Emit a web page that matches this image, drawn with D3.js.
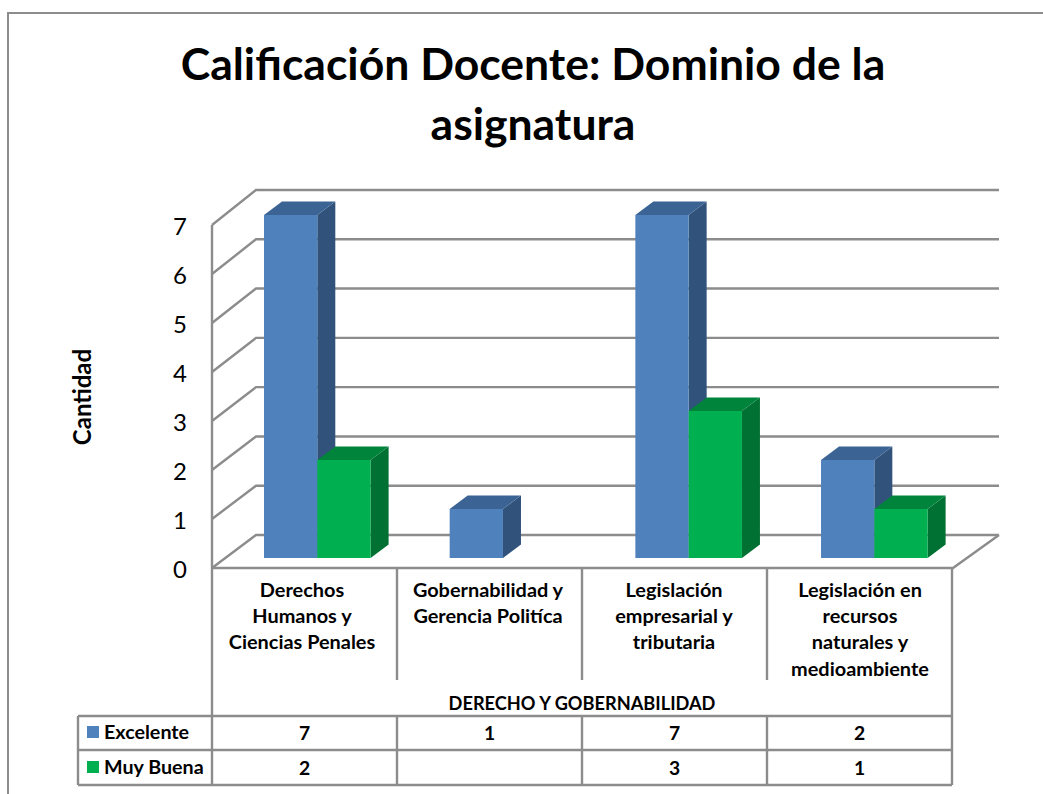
<!DOCTYPE html>
<html>
<head>
<meta charset="utf-8">
<script src="https://cdn.jsdelivr.net/npm/d3@7"></script>
<style>
html, body { margin: 0; padding: 0; background: #fff; overflow: hidden; }
text { font-family: Lato, "Open Sans", sans-serif; fill: #000; }
</style>
</head>
<body>
<div id="chart"></div>
<script>
var titleLines = ["Calificación Docente: Dominio de la", "asignatura"];
var categories = [
    ["Derechos", "Humanos y", "Ciencias Penales"],
    ["Gobernabilidad y", "Gerencia Politíca"],
    ["Legislación", "empresarial y", "tributaria"],
    ["Legislación en", "recursos", "naturales y", "medioambiente"]
];
var groupLabel = "DERECHO Y GOBERNABILIDAD";
var yTicks = [0, 1, 2, 3, 4, 5, 6, 7];
var seriesNames = ["Excelente", "Muy Buena"];
var excelente = [7, 1, 7, 2];
var muyBuena = [2, null, 3, 1];
var seriesValues = [excelente, muyBuena];
var frontColors = ["#4f81bd", "#00b050"];
var sideColors = ["#31527b", "#007033"];
var topColors = ["#3b6394", "#00843c"];

var width = 1043, height = 794;
var gridColor = "#8c8c8c";
var depthX = 18, depthY = 13.5;

var svg = d3.select("#chart").append("svg")
    .attr("width", width)
    .attr("height", height);

// outer chart frame, runs off the picture on the right and bottom
svg.append("path")
    .attr("d", "M8,794V13H1043")
    .attr("fill", "none")
    .attr("stroke", gridColor)
    .attr("stroke-width", 2);

svg.selectAll(".title")
    .data(titleLines)
    .enter().append("text")
    .attr("class", "title")
    .attr("x", 533)
    .attr("y", function(d, i) { return 80 + i * 60; })
    .attr("text-anchor", "middle")
    .attr("font-size", 44.5)
    .attr("font-weight", 700)
    .text(function(d) { return d; });

// scales: floor front edge, back wall, and the bars sit between them
var yFront = d3.scaleLinear().domain([0, 7]).range([568, 225]);
var yBack = d3.scaleLinear().domain([0, 7]).range([535, 190]);
var yBar = d3.scaleLinear().domain([0, 7]).range([558, 215]);
var x = d3.scaleBand().domain(d3.range(categories.length)).range([212, 952]);
var xBar = d3.scaleBand().domain(d3.range(categories.length)).range([212, 954.7]);
var xLabel = d3.scaleBand().domain(d3.range(categories.length)).range([209, 953]);
var xSeries = d3.scaleBand().domain(d3.range(seriesNames.length)).range([0, 106.6]);
var barOffset = 52;

var grid = svg.append("g")
    .attr("fill", "none")
    .attr("stroke", gridColor)
    .attr("stroke-width", 2.4);

grid.selectAll("path")
    .data(yTicks)
    .enter().append("path")
    .attr("d", function(d) {
        return "M212," + yFront(d) + "L256," + yBack(d) + "H999";
    });

grid.append("path").attr("d", "M212," + yFront(7) + "V" + yFront(0));
grid.append("path").attr("d", "M212,568H953L999,535");

// y axis labels
var yAxis = d3.axisLeft(yFront).tickValues(yTicks).tickSize(0).tickPadding(25).tickFormat(d3.format("d"));
var yAxisG = svg.append("g").attr("transform", "translate(212,2)").call(yAxis);
yAxisG.select(".domain").remove();
yAxisG.selectAll("text")
    .attr("font-size", 24)
    .style("font-family", "Lato, sans-serif")
    .attr("fill", "#000");

svg.append("text")
    .attr("transform", "translate(91,397) rotate(-90)")
    .attr("text-anchor", "middle")
    .attr("font-size", 24)
    .attr("font-weight", 700)
    .text("Cantidad");

// bars
var bars = [];
seriesValues.forEach(function(vals, s) {
    vals.forEach(function(v, c) {
        if (v !== null) bars.push({s: s, c: c, v: v});
    });
});
bars.sort(function(a, b) { return a.c - b.c || a.s - b.s; });

var bar = svg.selectAll(".bar")
    .data(bars)
    .enter().append("g")
    .attr("class", "bar");

function barLeft(d) { return xBar(d.c) + barOffset + xSeries(d.s); }
function barRight(d) { return barLeft(d) + xSeries.bandwidth(); }

bar.append("path")
    .attr("fill", function(d) { return sideColors[d.s]; })
    .attr("d", function(d) {
        var r = barRight(d), t = yBar(d.v), b = yBar(0);
        return "M" + r + "," + t + "l" + depthX + "," + (-depthY) + "V" + (b - depthY) + "L" + r + "," + b + "Z";
    });

bar.append("path")
    .attr("fill", function(d) { return topColors[d.s]; })
    .attr("d", function(d) {
        var l = barLeft(d), r = barRight(d), t = yBar(d.v);
        return "M" + l + "," + t + "l" + depthX + "," + (-depthY) + "H" + (r + depthX) + "L" + r + "," + t + "Z";
    });

bar.append("rect")
    .attr("x", barLeft)
    .attr("y", function(d) { return yBar(d.v); })
    .attr("width", xSeries.bandwidth())
    .attr("height", function(d) { return yBar(0) - yBar(d.v); })
    .attr("fill", function(d) { return frontColors[d.s]; });

// data table rules
var rowY = [716, 750, 785];
var table = svg.append("g")
    .attr("fill", "none")
    .attr("stroke", gridColor)
    .attr("stroke-width", 2.4);

rowY.forEach(function(y) {
    table.append("path").attr("d", "M78," + y + "H952");
});
table.append("path").attr("d", "M78,716V785");
table.append("path").attr("d", "M212,568V785");
table.append("path").attr("d", "M952,568V785");
d3.range(1, categories.length).forEach(function(i) {
    table.append("path").attr("d", "M" + x(i) + ",568V680");
    table.append("path").attr("d", "M" + x(i) + ",716V785");
});

// category labels
var catLabel = svg.selectAll(".cat")
    .data(categories)
    .enter().append("text")
    .attr("class", "cat")
    .attr("text-anchor", "middle")
    .attr("font-size", 19.9)
    .attr("font-weight", 700);

catLabel.selectAll("tspan")
    .data(function(d, i) {
        return d.map(function(line, n) { return {line: line, n: n, c: i}; });
    })
    .enter().append("tspan")
    .attr("x", function(d) { return xLabel(d.c) + xLabel.bandwidth() / 2; })
    .attr("y", function(d) { return 597 + d.n * 26.2; })
    .text(function(d) { return d.line; });

svg.append("text")
    .attr("x", 582)
    .attr("y", 710)
    .attr("text-anchor", "middle")
    .attr("font-size", 18.2)
    .attr("font-weight", 700)
    .text(groupLabel);

// table rows with legend keys
seriesNames.forEach(function(name, s) {
    var top = rowY[s];
    svg.append("rect")
        .attr("x", 87)
        .attr("y", top + 10 + s)
        .attr("width", 12)
        .attr("height", 12)
        .attr("fill", frontColors[s]);
    svg.append("text")
        .attr("x", 104)
        .attr("y", top + 23 + s)
        .attr("font-size", 19.7)
        .attr("font-weight", 700)
        .text(name);
    svg.selectAll(".val" + s)
        .data(seriesValues[s])
        .enter().append("text")
        .attr("class", "val" + s)
        .attr("x", function(d, i) { return x(i) + x.bandwidth() / 2; })
        .attr("y", top + 24 + s)
        .attr("text-anchor", "middle")
        .attr("font-size", 19.3)
        .attr("font-weight", 700)
        .text(function(d) { return d === null ? "" : d; });
});
</script>
</body>
</html>
